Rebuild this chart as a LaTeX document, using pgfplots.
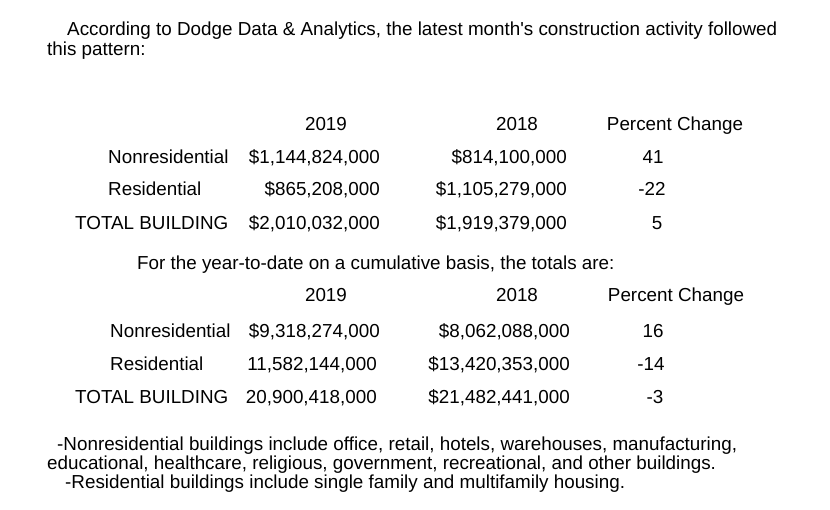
\documentclass[border=0pt]{standalone}
\usepackage{pgfplots}
\pgfplotsset{compat=1.18}
\usepackage{fontspec}
\setmainfont{Liberation Sans}[Ligatures=TeXOff]
\begin{document}
\fontsize{18.9}{22}\selectfont
\begin{tikzpicture}
\begin{axis}[
  width=830bp, height=509bp, scale only axis,
  xmin=0, xmax=830, ymin=0, ymax=509, y dir=reverse,
  hide axis, clip=false,
]
\addplot[draw=none, forget plot] coordinates {(0,0) (830,509)};
% intro
\node[inner sep=0pt, anchor=base west] at (axis cs:67,36) {According to Dodge Data \& Analytics, the latest month's construction activity followed};
\node[inner sep=0pt, anchor=base west] at (axis cs:47,56) {this pattern:};
% table 1 header
\node[inner sep=0pt, anchor=base] at (axis cs:326,130) {2019};
\node[inner sep=0pt, anchor=base] at (axis cs:517,130) {2018};
\node[inner sep=0pt, anchor=base] at (axis cs:675,130) {Percent Change};
% table 1 rows
\node[inner sep=0pt, anchor=base west] at (axis cs:108,163) {Nonresidential};
\node[inner sep=0pt, anchor=base east] at (axis cs:380,163) {\$1,144,824,000};
\node[inner sep=0pt, anchor=base east] at (axis cs:567,163) {\$814,100,000};
\node[inner sep=0pt, anchor=base] at (axis cs:653,163) {41};
\node[inner sep=0pt, anchor=base west] at (axis cs:108,195) {Residential};
\node[inner sep=0pt, anchor=base east] at (axis cs:380,195) {\$865,208,000};
\node[inner sep=0pt, anchor=base east] at (axis cs:567,195) {\$1,105,279,000};
\node[inner sep=0pt, anchor=base] at (axis cs:652,195) {-22};
\node[inner sep=0pt, anchor=base west] at (axis cs:75,229) {TOTAL BUILDING};
\node[inner sep=0pt, anchor=base east] at (axis cs:380,229) {\$2,010,032,000};
\node[inner sep=0pt, anchor=base east] at (axis cs:567,229) {\$1,919,379,000};
\node[inner sep=0pt, anchor=base] at (axis cs:657,229) {5};
% cumulative
\node[inner sep=0pt, anchor=base west] at (axis cs:137,269) {For the year-to-date on a cumulative basis, the totals are:};
\node[inner sep=0pt, anchor=base] at (axis cs:326,301) {2019};
\node[inner sep=0pt, anchor=base] at (axis cs:517,301) {2018};
\node[inner sep=0pt, anchor=base] at (axis cs:676,301) {Percent Change};
\node[inner sep=0pt, anchor=base west] at (axis cs:110,337) {Nonresidential};
\node[inner sep=0pt, anchor=base east] at (axis cs:380,337) {\$9,318,274,000};
\node[inner sep=0pt, anchor=base east] at (axis cs:570,337) {\$8,062,088,000};
\node[inner sep=0pt, anchor=base] at (axis cs:653,337) {16};
\node[inner sep=0pt, anchor=base west] at (axis cs:110,370) {Residential};
\node[inner sep=0pt, anchor=base east] at (axis cs:377,370) {11,582,144,000};
\node[inner sep=0pt, anchor=base east] at (axis cs:570,370) {\$13,420,353,000};
\node[inner sep=0pt, anchor=base] at (axis cs:651,370) {-14};
\node[inner sep=0pt, anchor=base west] at (axis cs:75,403) {TOTAL BUILDING};
\node[inner sep=0pt, anchor=base east] at (axis cs:377,403) {20,900,418,000};
\node[inner sep=0pt, anchor=base east] at (axis cs:570,403) {\$21,482,441,000};
\node[inner sep=0pt, anchor=base] at (axis cs:655,403) {-3};
% footnotes
\node[inner sep=0pt, anchor=base west] at (axis cs:57,450) {-Nonresidential buildings include office, retail, hotels, warehouses, manufacturing,};
\node[inner sep=0pt, anchor=base west] at (axis cs:47,469) {educational, healthcare, religious, government, recreational, and other buildings.};
\node[inner sep=0pt, anchor=base west] at (axis cs:65,488) {-Residential buildings include single family and multifamily housing.};
\end{axis}
\end{tikzpicture}
\end{document}
